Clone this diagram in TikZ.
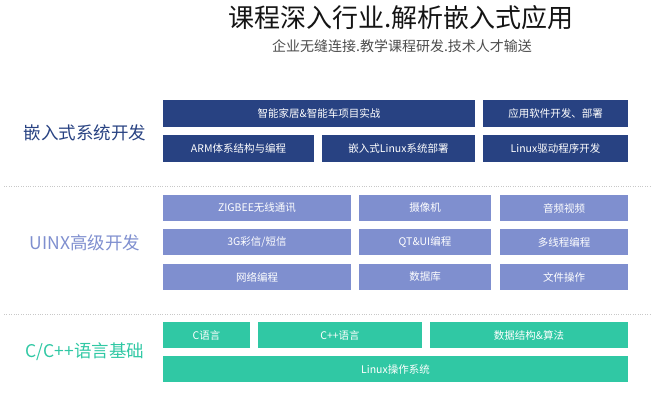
\documentclass[tikz,border=0pt]{standalone}
\usepackage{fontspec}
\newfontfamily\cjk{Noto Sans CJK SC}
\definecolor{navycolor}{RGB}{40,66,130}
\definecolor{lavendercolor}{RGB}{127,143,207}
\definecolor{tealcolor}{RGB}{48,200,164}
\definecolor{titlecolor}{RGB}{20,20,20}
\definecolor{dotlinecolor}{RGB}{200,200,200}
\newcommand{\blocknode}[7]{
	\node[#1, minimum width=#5pt-#3pt, minimum height=#6pt-#4pt] (#2) at ({(#3+#5)/2}, {(#4+#6)/2}) {#7};
}
\tikzset{
	block/.style = {inner sep=0, text=white, font=\cjk\fontsize{10.5}{12}\selectfont},
	navyblock/.style = {block, fill=navycolor},
	lavenderblock/.style = {block, fill=lavendercolor},
	tealblock/.style = {block, fill=tealcolor},
	sectionlabel/.style = {font=\cjk\fontsize{17.5}{20}\selectfont},
	separator/.style = {dotlinecolor, dotted, thin}
}
\begin{document}
\begin{tikzpicture}[x=1pt, y=-1pt]
	\useasboundingbox (0,0) rectangle (654,400);
	
	\node[font=\cjk\fontsize{26}{30}\selectfont, text=titlecolor] (title) at (401,18) {课程深入行业.解析嵌入式应用};
	\node[font=\cjk\fontsize{14}{16}\selectfont, text=black!70] (subtitle) at (402,46) {企业无缝连接.教学课程研发.技术人才输送};
	
	% embedded section
	\node[sectionlabel, text=navycolor] (embeddedlabel) at (85,133) {嵌入式系统开发};
	\blocknode{navyblock}{smarthome}{163}{100}{475}{127}{智能家居\&智能车项目实战}
	\blocknode{navyblock}{appdev}{483}{100}{628}{127}{应用软件开发、部署}
	\blocknode{navyblock}{arm}{163}{135}{314}{162}{ARM体系结构与编程}
	\blocknode{navyblock}{linuxdeploy}{322}{135}{475}{162}{嵌入式Linux系统部署}
	\blocknode{navyblock}{driver}{483}{135}{628}{162}{Linux驱动程序开发}
	
	\coordinate (sepa left) at (4,186);
	\coordinate (sepa right) at (650,186);
	\draw[separator] (sepa left) -- (sepa right);
	
	% advanced section
	\node[sectionlabel, text=lavendercolor] (advancedlabel) at (85,243) {UINX高级开发};
	\blocknode{lavenderblock}{zigbee}{163}{195}{351}{221}{ZIGBEE无线通讯}
	\blocknode{lavenderblock}{camera}{359}{195}{491}{221}{摄像机}
	\blocknode{lavenderblock}{video}{500}{195}{628}{221}{音频视频}
	\blocknode{lavenderblock}{mms}{163}{229}{351}{255}{3G彩信/短信}
	\blocknode{lavenderblock}{qt}{359}{229}{491}{255}{QT\&UI编程}
	\blocknode{lavenderblock}{thread}{500}{229}{628}{255}{多线程编程}
	\blocknode{lavenderblock}{network}{163}{264}{351}{290}{网络编程}
	\blocknode{lavenderblock}{database}{359}{264}{491}{290}{数据库}
	\blocknode{lavenderblock}{fileop}{500}{264}{628}{290}{文件操作}
	
	\coordinate (sepb left) at (4,314);
	\coordinate (sepb right) at (650,314);
	\draw[separator] (sepb left) -- (sepb right);
	
	% basic section
	\node[sectionlabel, text=tealcolor] (basiclabel) at (85,352) {C/C++语言基础};
	\blocknode{tealblock}{clang}{163}{322}{250}{348}{C语言}
	\blocknode{tealblock}{cpplang}{258}{322}{422}{348}{C++语言}
	\blocknode{tealblock}{algo}{430}{322}{628}{348}{数据结构\&算法}
	\blocknode{tealblock}{linuxos}{163}{356}{628}{382}{Linux操作系统}
\end{tikzpicture}
\end{document}
